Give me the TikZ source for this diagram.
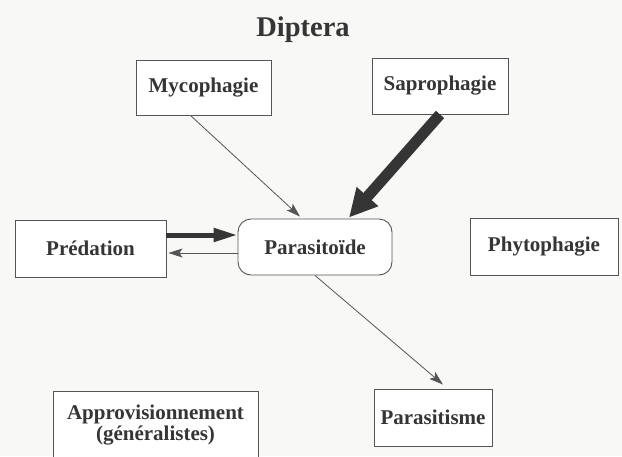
\documentclass[tikz,border=0pt]{standalone}
\usepackage{fontspec}
\setmainfont{Liberation Serif}
\usetikzlibrary{arrows.meta,calc}
\definecolor{inkgray}{HTML}{353535}
\definecolor{linegray}{HTML}{555555}
\definecolor{paper}{HTML}{F8F8F6}
\begin{document}
\begin{tikzpicture}[x=1pt,y=-1pt,
  habit/.style={draw=linegray, line width=0.9pt, fill=white, inner sep=0pt,
    text=inkgray, font=\fontsize{21}{24}\selectfont\bfseries, align=center},
  thin link/.style={draw=linegray, line width=0.8pt,
    -{Stealth[length=14pt,width=9pt,inset=3pt]}},
]
\fill[paper] (0,0) rectangle (622,456);
\useasboundingbox (0,0) rectangle (622,456);

\node[text=inkgray, font=\fontsize{28.5}{32}\selectfont\bfseries] (title) at (303,30) {Diptera};

\node[habit, minimum width=135pt, minimum height=55pt] (myco) at (203.5,87.5) {Mycophagie};
\node[habit, minimum width=136pt, minimum height=56pt] (sapro) at (440,86) {Saprophagie};
\node[habit, minimum width=151pt, minimum height=57pt] (pred) at (90.5,248.5) {Prédation};
\node[habit, minimum width=154pt, minimum height=56pt, rounded corners=13pt] (para) at (315,247) {Parasitoïde};
\node[habit, minimum width=148pt, minimum height=57pt] (phyto) at (544,246.5) {Phytophagie};
\node[habit, minimum width=205pt, minimum height=68pt] (appro) at (155.5,425) {Approvisionnement\\[-3pt](généralistes)};
\node[habit, minimum width=118pt, minimum height=57pt] (parasit) at (433,417.5) {Parasitisme};

% thin arrows
\draw[thin link] ($(myco.south)+(-13,0)$) -- ($(para.north)+(-15,-2)$);
\draw[thin link] ($(para.south)+(0,0)$) -- ($(parasit.north)+(10,-4)$);
\draw[thin link] ($(para.west)+(0,6)$) -- ($(pred.east)+(2,4.5)$);

% heavy arrows
\draw[draw=inkgray, line width=11pt, -{Triangle[length=28pt,width=27pt]}]
  ($(sapro.south)+(0,0)$) -- ($(para.north)+(34,-1)$);
\draw[draw=inkgray, line width=5pt, -{Triangle[length=24pt,width=13pt]}]
  ($(pred.east)+(0,-13.5)$) -- ($(para.west)+(0,-12)$);
\end{tikzpicture}
\end{document}
